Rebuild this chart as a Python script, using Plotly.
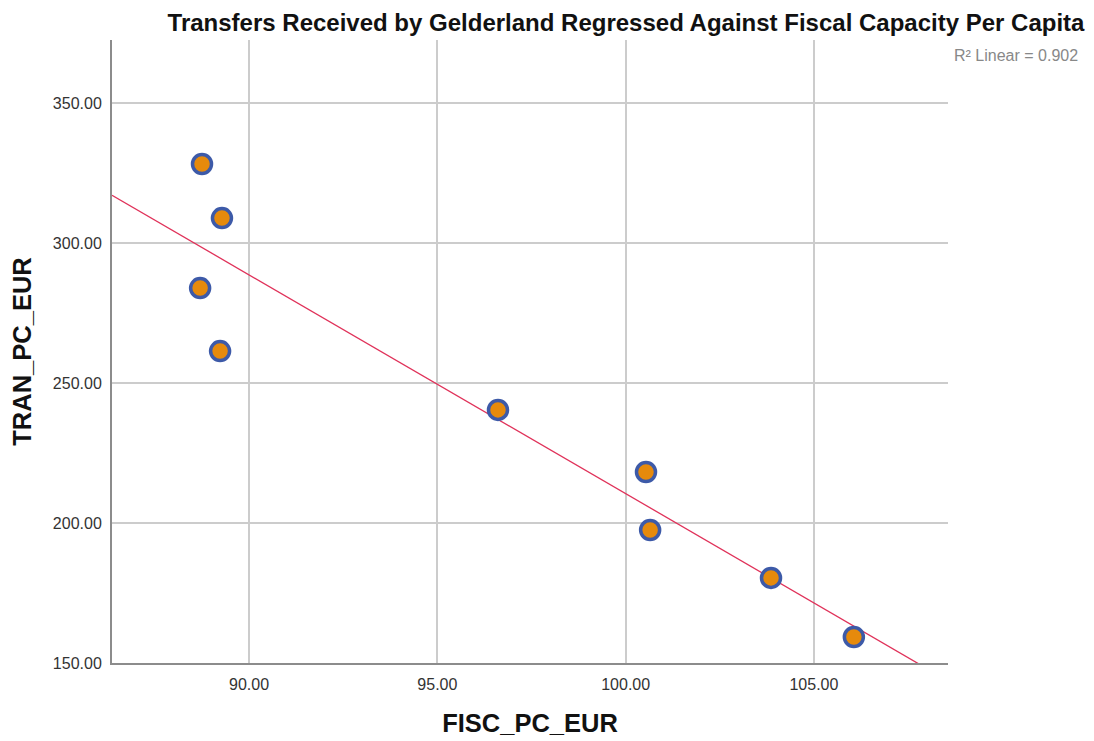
import numpy as np
import plotly.graph_objects as go

# Fiscal capacity per capita (EUR) and transfers received per capita (EUR)
fisc_pc_eur = [88.75, 89.28, 88.70, 89.23, 96.61, 100.54, 100.65, 103.86, 106.06]
tran_pc_eur = [328.2, 308.9, 283.9, 261.4, 240.4, 218.2, 197.5, 180.4, 159.3]

x_ticks = [90, 95, 100, 105]
y_ticks = [150, 200, 250, 300, 350]
x_range = [86.36, 108.56]
y_range = [150, 372.5]

# Ordinary least squares fit
x = np.array(fisc_pc_eur)
y = np.array(tran_pc_eur)
slope, intercept = np.polyfit(x, y, 1)
pred = slope * x + intercept
r2 = 1 - np.sum((y - pred) ** 2) / np.sum((y - y.mean()) ** 2)
fit_x = np.array(x_range)
fit_y = slope * fit_x + intercept

font = "Liberation Sans, Arial, sans-serif"

fig = go.Figure()
fig.add_trace(go.Scatter(
    x=fit_x, y=fit_y, mode="lines",
    line=dict(color="#e0325a", width=1.3),
    hoverinfo="skip", showlegend=False,
))
fig.add_trace(go.Scatter(
    x=fisc_pc_eur, y=tran_pc_eur, mode="markers",
    marker=dict(size=19, color="#e68a0c", line=dict(color="#3d5aa8", width=3.5)),
    showlegend=False,
))

fig.update_layout(
    width=1094, height=741,
    margin=dict(l=112, r=146, t=40, b=78),
    paper_bgcolor="white", plot_bgcolor="white",
    font=dict(family=font, color="#333333"),
    title=dict(
        text="<b>Transfers Received by Gelderland Regressed Against Fiscal Capacity Per Capita</b>",
        x=626 / 1094, xanchor="center", y=1 - 23 / 741, yanchor="middle",
        font=dict(family=font, size=24, color="#111111"),
    ),
    annotations=[dict(
        text=f"R² Linear = {r2:.3f}", xref="paper", yref="paper",
        x=(1080 - 112) / (948 - 112), y=1 + (40 - 55) / (663 - 40),
        xanchor="right", yanchor="middle", showarrow=False,
        font=dict(family=font, size=16, color="#888888"),
    )],
)
fig.update_xaxes(
    range=x_range, tickvals=x_ticks, tickformat=".2f",
    showgrid=True, gridcolor="#cccccc", gridwidth=1.5,
    showline=True, linecolor="#8c8c8c", linewidth=2,
    ticks="", zeroline=False, ticklabelstandoff=6, automargin=False,
    tickfont=dict(size=16, color="#333333"),
    title=dict(text="<b>FISC_PC_EUR</b>", font=dict(size=25.5, color="#111111"), standoff=22),
)
fig.update_yaxes(
    range=y_range, tickvals=y_ticks, tickformat=".2f",
    showgrid=True, gridcolor="#cccccc", gridwidth=1.5,
    showline=True, linecolor="#8c8c8c", linewidth=2,
    ticks="", zeroline=False, ticklabelstandoff=5, automargin=False,
    tickfont=dict(size=16, color="#333333"),
    title=dict(text="<b>TRAN_PC_EUR</b>", font=dict(size=25.5, color="#111111"), standoff=14),
)

fig.write_html("out.html")
